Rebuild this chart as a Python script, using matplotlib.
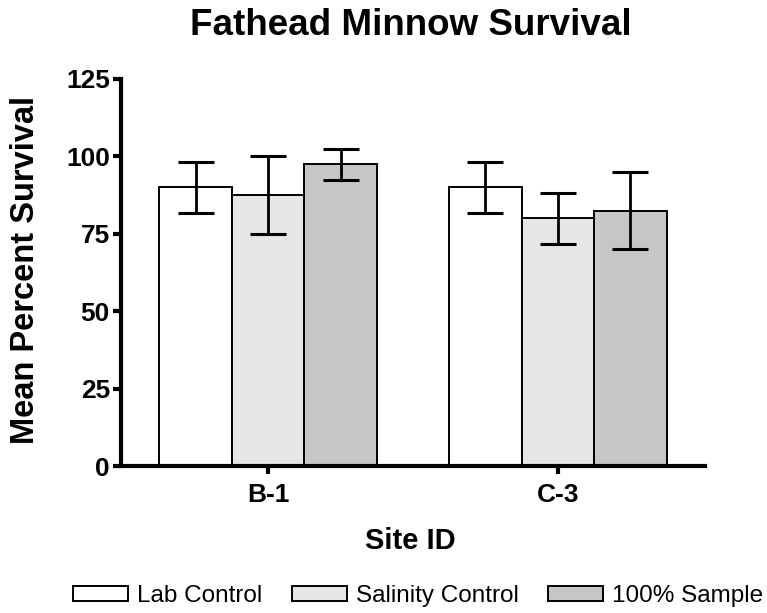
import numpy as np
import matplotlib
matplotlib.use("Agg")
from matplotlib import pyplot as plt

plt.rcParams['font.family'] = ['Liberation Sans', 'DejaVu Sans']

sites = ["B-1", "C-3"]
treatments = ["Lab Control", "Salinity Control", "100% Sample"]
means = [
    [90.0, 90.0],   # Lab Control
    [87.5, 80.0],   # Salinity Control
    [97.5, 82.5],   # 100% Sample
]
errors = [
    [8.2, 8.2],
    [12.5, 8.2],
    [5.0, 12.5],
]
colors = ["white", "#e6e6e6", "#c6c6c6"]


def main():
    fig = plt.figure(figsize=(7.67, 6.13), dpi=100)
    ax = fig.add_axes([121 / 767, 1 - 466 / 613, (705 - 121) / 767, (466 - 79) / 613])

    x = np.arange(len(sites))
    width = 0.25
    for i, name in enumerate(treatments):
        pos = x + (i - 1) * width
        ax.bar(pos, means[i], width, color=colors[i], edgecolor="black",
               linewidth=1.4, label=name, zorder=2)
        ax.errorbar(pos, means[i], yerr=errors[i], fmt="none", ecolor="black",
                    elinewidth=2, capsize=13, capthick=2.2, zorder=3)

    ax.set_xlim(-0.507, 1.507)
    ax.set_ylim(0, 125)
    ax.set_yticks([0, 25, 50, 75, 100, 125])
    ax.set_xticks(x)
    ax.set_xticklabels(sites)

    for side in ("top", "right"):
        ax.spines[side].set_visible(False)
    for side in ("left", "bottom"):
        ax.spines[side].set_linewidth(3)
    ax.tick_params(axis="both", width=3, length=6, labelsize=19)
    ax.tick_params(axis="y", pad=2)
    ax.tick_params(axis="x", pad=6)
    for lab in ax.get_xticklabels() + ax.get_yticklabels():
        lab.set_fontweight("bold")

    ax.set_ylabel("Mean Percent Survival", fontsize=23.5, fontweight="bold", va="center")
    ax.yaxis.set_label_coords(-0.164, 0.506)
    ax.set_xlabel("Site ID", fontsize=21, fontweight="bold", va="center")
    ax.xaxis.set_label_coords(0.495, -0.194)
    fig.text(0.535, 0.958, "Fathead Minnow Survival", ha="center", va="center",
             fontsize=26.5, fontweight="bold")

    fig.legend(loc="center", bbox_to_anchor=(418 / 767, 0.028), ncol=3, frameon=False,
               fontsize=17.5, handlelength=2.26, handleheight=0.55,
               columnspacing=1.2, handletextpad=0.37, borderpad=0, borderaxespad=0)

    plt.savefig("out.png", dpi=100)


if __name__ == "__main__":
    main()
